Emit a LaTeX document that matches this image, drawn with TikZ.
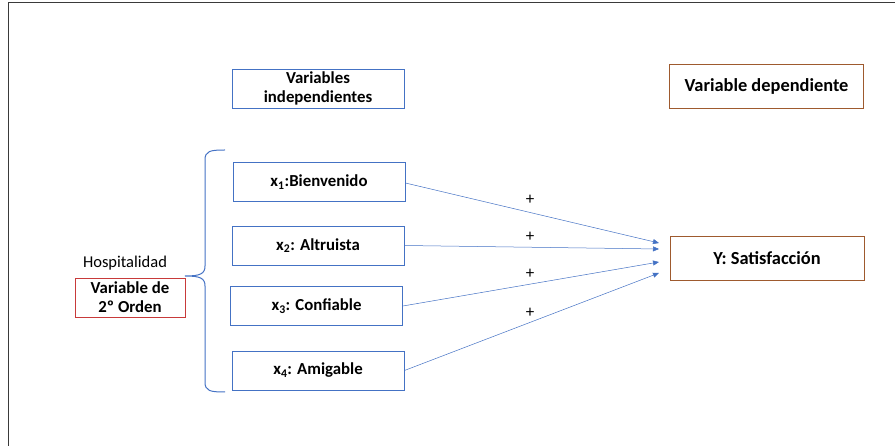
\documentclass[tikz,border=0pt]{standalone}
\usepackage{fontspec}
\setmainfont{Carlito}
\usetikzlibrary{arrows.meta}
\definecolor{boxblue}{HTML}{4472C4}
\definecolor{brownb}{HTML}{9E5A2E}
\definecolor{redb}{HTML}{C83A3A}
\definecolor{framegray}{HTML}{3A3A3A}
\tikzset{
  bluebox/.style={draw=boxblue, line width=0.9pt, minimum width=172pt, minimum height=39pt, font=\fontsize{16.8}{19}\selectfont\bfseries, align=center, inner sep=0pt},
  brownbox/.style={draw=brownb, line width=0.9pt, minimum width=194pt, minimum height=44pt, font=\fontsize{18.4}{21}\selectfont\bfseries, align=center, inner sep=0pt},
  redbox/.style={draw=redb, line width=0.9pt, minimum width=110pt, minimum height=39pt, font=\fontsize{16.8}{19}\selectfont\bfseries, align=center, inner sep=0pt},
  conn/.style={draw=boxblue, line width=0.5pt, -{Triangle[length=6pt,width=5pt]}},
  plus/.style={font=\fontsize{17}{19}\selectfont}
}
\begin{document}
\begin{tikzpicture}[x=1pt,y=-1pt]
\useasboundingbox (0,0) rectangle (895,446);
% slide frame (cropped)
\draw[framegray, line width=1pt] (8.5,446) -- (8.5,3) -- (895,3);
% header boxes
\node[bluebox] (vi) at (318,88.5) {Variables\\independientes};
\node[brownbox] (vd) at (766.5,86) {Variable dependiente};
% independent variables
\node[bluebox] (x1) at (319,182) {x\textsubscript{1}:Bienvenido};
\node[bluebox] (x2) at (318,245.5) {x\textsubscript{2}: Altruista};
\node[bluebox] (x3) at (316.5,306) {x\textsubscript{3}: Confiable};
\node[bluebox] (x4) at (318,370.5) {x\textsubscript{4}: Amigable};
% dependent
\node[brownbox] (y) at (767,258) {Y: Satisfacción};
% second order
\node[redbox] (so) at (130,297.5) {Variable de\\2º Orden};
\node[font=\fontsize{16.5}{19}\selectfont, anchor=south] (hosp) at (125,274) {Hospitalidad};
% brace
\draw[boxblue, line width=1pt] (225,150) .. controls (210,150) and (205,151) .. (205,160)
  -- (205,266) .. controls (205,274) and (200,276) .. (185,276)
  .. controls (200,276) and (205,278) .. (205,286)
  -- (205,382) .. controls (205,391) and (210,392) .. (225,392);
% arrows
\coordinate (t1) at (659,243);
\coordinate (t2) at (659,249);
\coordinate (t3) at (659,262);
\coordinate (t4) at (659,273);
\draw[conn] (x1.east) ++(0,1) -- (t1);
\draw[conn] (x2.east) -- (t2);
\draw[conn] (x3.east) -- (t3);
\draw[conn] (x4.east) -- (t4);
\node[plus] (p1) at (530,200) {+};
\node[plus] (p2) at (530,237) {+};
\node[plus] (p3) at (530,274) {+};
\node[plus] (p4) at (530,313) {+};
\end{tikzpicture}
\end{document}
